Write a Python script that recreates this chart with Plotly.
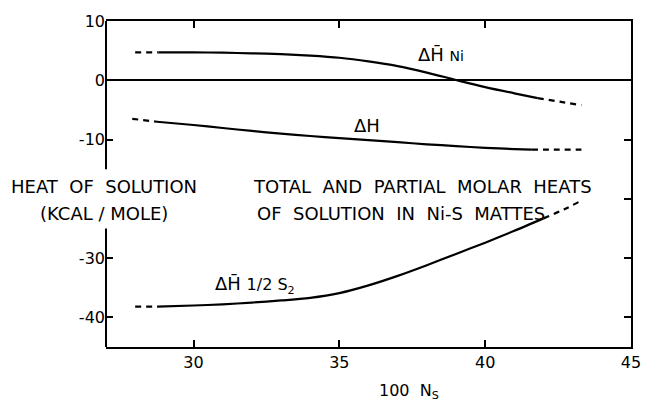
import plotly.graph_objects as go

# ---- data ----
ni_dash1_x = [28.0, 28.8]
ni_dash1_y = [4.7, 4.7]
ni_x = [28.8, 30, 31, 32, 33, 34, 35, 36, 37, 38, 39, 40, 41, 41.8]
ni_y = [4.7, 4.7, 4.65, 4.55, 4.4, 4.15, 3.8, 3.2, 2.4, 1.3, 0.05, -1.15, -2.2, -3.0]
ni_dash2_x = [41.8, 42.6, 43.3]
ni_dash2_y = [-3.0, -3.65, -4.2]

dh_dash1_x = [27.9, 28.75]
dh_dash1_y = [-6.5, -7.0]
dh_x = [28.75, 30, 31, 32, 33, 34, 35, 36, 37, 38, 39, 40, 41, 41.6]
dh_y = [-7.0, -7.55, -8.05, -8.55, -9.0, -9.4, -9.75, -10.1, -10.45, -10.8, -11.1, -11.4, -11.6, -11.7]
dh_dash2_x = [41.6, 42.5, 43.3]
dh_dash2_y = [-11.7, -11.7, -11.7]

s2_dash1_x = [28.0, 28.75]
s2_dash1_y = [-38.2, -38.2]
s2_x = [28.75, 30, 31, 32, 33, 34, 35, 36, 37, 38, 39, 40, 41, 42]
s2_y = [-38.2, -38.0, -37.8, -37.5, -37.15, -36.7, -35.9, -34.6, -33.0, -31.2, -29.3, -27.4, -25.4, -23.3]
s2_dash2_x = [42.0, 42.7, 43.3]
s2_dash2_y = [-23.3, -21.8, -20.3]

x_ticks = [30, 35, 40, 45]
y_left_ticks = [-40, -30, -10, 0, 10]
y_left_labels = ["-40", "-30", "-10", "0", "10"]
y_right_ticks = [-40, -30, -20, -10]

FONT = "DejaVu Sans"
NB = "\u00a0"

fig = go.Figure()

def add(x, y, dashed, yaxis="y"):
    fig.add_trace(go.Scatter(
        x=x, y=y, mode="lines", yaxis=yaxis, showlegend=False, hoverinfo="skip",
        line=dict(color="black", width=2.2, shape="spline", smoothing=0.8,
                  dash="6px,5px" if dashed else "solid")))

add(ni_dash1_x, ni_dash1_y, True)
add(ni_x, ni_y, False)
add(ni_dash2_x, ni_dash2_y, True)
add(dh_dash1_x, dh_dash1_y, True)
add(dh_x, dh_y, False)
add(dh_dash2_x, dh_dash2_y, True, "y2")
add(s2_dash1_x, s2_dash1_y, True)
add(s2_x, s2_y, False)
add(s2_dash2_x, s2_dash2_y, True)

tickfont = dict(family=FONT, size=16, color="black")

fig.update_layout(
    width=653, height=403,
    margin=dict(l=106, r=13, t=18, b=56),
    paper_bgcolor="white", plot_bgcolor="white",
    xaxis=dict(range=[27, 45], tickvals=x_ticks, ticktext=[str(v) for v in x_ticks],
               ticks="inside", ticklen=7, tickwidth=2, tickcolor="black",
               showline=True, linewidth=2, linecolor="black", mirror="ticks",
               showgrid=False, zeroline=False, tickfont=tickfont),
    yaxis=dict(range=[-45, 10], tickvals=y_left_ticks, ticktext=y_left_labels,
               ticks="inside", ticklen=7, tickwidth=2, tickcolor="black",
               showline=False, showgrid=False, zeroline=True,
               zerolinecolor="black", zerolinewidth=2, tickfont=tickfont),
    yaxis2=dict(range=[-45, 10], overlaying="y", side="right", tickvals=y_right_ticks,
                ticks="inside", ticklen=7, tickwidth=2, tickcolor="black",
                showticklabels=False, showline=True, linewidth=2, linecolor="black",
                showgrid=False, zeroline=False),
)

# broken left spine
for y0, y1 in [(-15, 10), (-45, -25)]:
    fig.add_shape(type="line", xref="paper", yref="y", x0=0, x1=0, y0=y0, y1=y1,
                  line=dict(color="black", width=2))

def ann(text, x, y, xref="x", yref="y", size=18, xanchor="center", yanchor="middle"):
    fig.add_annotation(text=text, x=x, y=y, xref=xref, yref=yref, showarrow=False,
                       xanchor=xanchor, yanchor=yanchor,
                       font=dict(family=FONT, size=size, color="black"))

ann("\u0394H\u0304" + NB + "<span style='font-size:14px'>Ni</span>", 38.5, 4.3)
ann("\u0394H", 35.95, -7.7)
ann("\u0394H\u0304" + NB + "<span style='font-size:16px'>1/2 S<sub>2</sub></span>", 32.1, -34.5)

sp2 = NB + " "
ann("HEAT" + sp2 + "OF" + sp2 + "SOLUTION", -0.004, -18, xref="paper")
ann("(KCAL / MOLE)", -0.004, -22.5, xref="paper")
ann("TOTAL" + sp2 + "AND" + sp2 + "PARTIAL" + sp2 + "MOLAR" + sp2 + "HEATS", 0.277, -18,
    xref="paper", xanchor="left")
ann("OF" + sp2 + "SOLUTION" + sp2 + "IN" + sp2 + "Ni-S" + sp2 + "MATTES", 0.283, -22.5,
    xref="paper", xanchor="left")
ann("100" + sp2 + "N<sub>S</sub>", 37.4, -0.135, yref="paper", size=16)

fig.write_html("out.html")
